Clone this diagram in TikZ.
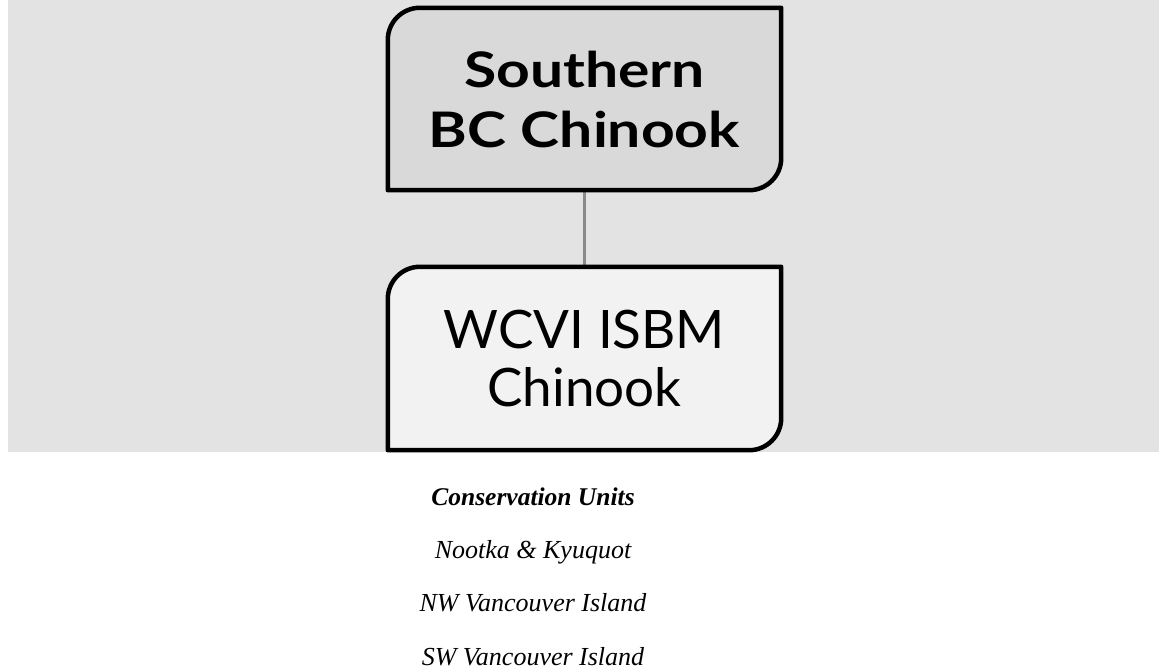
\documentclass[tikz,border=0pt]{standalone}
\usepackage{fontspec}
\setsansfont{Lato}
\newfontfamily\widebold{Lato}[FakeStretch=1.2]
\newfontfamily\listfont{Liberation Serif}
\usetikzlibrary{calc}
\definecolor{bgc}{HTML}{E3E3E3}
\definecolor{topfill}{HTML}{D9D9D9}
\definecolor{subfill}{HTML}{F2F2F2}
\definecolor{linkc}{HTML}{8A8A8A}
\tikzset{
  boxnode/.style={rectangle, minimum width=393pt, inner sep=0pt, align=center},
  topbox/.style={boxnode, minimum height=182pt, font=\widebold\bfseries\fontsize{49}{60}\selectfont},
  subbox/.style={boxnode, minimum height=183pt, font=\sffamily\fontsize{53}{58}\selectfont},
  outline/.style={line width=4.5pt, draw=black, line join=round},
  link/.style={line width=3.5pt, draw=linkc},
  cuhead/.style={anchor=base, font=\listfont\bfseries\itshape\fontsize{25.5}{30}\selectfont},
  cuitem/.style={anchor=base, font=\listfont\itshape\fontsize{26}{30}\selectfont}
}
\newcommand{\halfround}[3]{%
  % #1 node name, #2 fill colour, #3 radius
  \filldraw[outline, fill=#2]
    ($(#1.south west)$) --
    ($(#1.north west)+(0,#3)$) .. controls ($(#1.north west)+(0,0.45*#3)$) and ($(#1.north west)+(0.45*#3,0)$) ..
    ($(#1.north west)+(#3,0)$) --
    ($(#1.north east)$) --
    ($(#1.south east)+(0,-#3)$) .. controls ($(#1.south east)+(0,-0.45*#3)$) and ($(#1.south east)+(-0.45*#3,0)$) ..
    ($(#1.south east)+(-#3,0)$) -- cycle;
}
\begin{document}
\begin{tikzpicture}[x=1pt,y=-1pt]
\useasboundingbox (0,0) rectangle (1159,669);
\fill[bgc] (8,0) rectangle (1159,452);
\node[topbox] (b1) at (584.5,99) {};
\node[subbox] (b2) at (584.5,358.5) {};
\draw[link] (b1.south) -- (b2.north);
\halfround{b1}{topfill}{32}
\halfround{b2}{subfill}{32}
\node[topbox] (t1) at (b1.center) {Southern\\BC Chinook};
\node[subbox] (t2) at (b2.center) {WCVI ISBM\\Chinook};
\node[cuhead] (cu) at (533,505) {Conservation Units};
\node[cuitem] (cu1) at (533,558) {Nootka \& Kyuquot};
\node[cuitem] (cu2) at (533,611) {NW Vancouver Island};
\node[cuitem] (cu3) at (533,665) {SW Vancouver Island};
\end{tikzpicture}
\end{document}
